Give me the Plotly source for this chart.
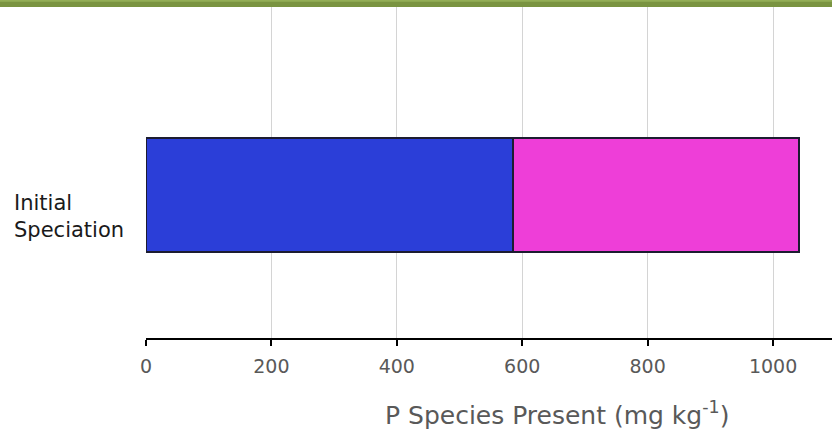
import plotly.graph_objects as go

categories = ["Initial Speciation"]
series_names = ["Species A", "Species B"]
series_values = [[585], [456]]
series_colors = ["#2B3ED8", "#EE3ED8"]
x_ticks = [0, 200, 400, 600, 800, 1000]

W, H = 832, 432
L, R, T, B = 146, 0, 7, 94
pw, ph = W - L - R, H - T - B

fig = go.Figure()
for name, vals, col in zip(series_names, series_values, series_colors):
    fig.add_trace(go.Bar(
        y=[0], x=vals, name=name, orientation="h", width=1,
        marker=dict(color=col, line=dict(color="#1c1c30", width=1.5)),
        showlegend=False,
    ))

fig.update_layout(
    barmode="stack",
    width=W, height=H,
    margin=dict(l=L, r=R, t=T, b=B, pad=0),
    paper_bgcolor="white", plot_bgcolor="white",
    font=dict(family="DejaVu Sans, sans-serif"),
    xaxis=dict(
        range=[0, 1094], tickvals=x_ticks, ticktext=[str(v) for v in x_ticks],
        showgrid=True, gridcolor="#d4d4d4", gridwidth=1.2,
        showline=True, linecolor="black", linewidth=2,
        ticks="outside", ticklen=6, tickwidth=2, tickcolor="black",
        tickfont=dict(size=19, color="#595959", family="DejaVu Sans, sans-serif"),
        ticklabelstandoff=4,
        zeroline=False,
    ),
    yaxis=dict(
        range=[-1.254, 1.65], showticklabels=False, showgrid=False,
        zeroline=False, showline=False, ticks="",
    ),
    shapes=[
        dict(type="rect", xref="paper", yref="paper",
             x0=-L / pw, x1=1, y0=1, y1=1 + 7 / ph,
             fillcolor="#7A9441", line=dict(width=0), layer="above"),
        dict(type="rect", xref="paper", yref="paper",
             x0=-L / pw, x1=1, y0=1 + 5.2 / ph, y1=1 + 7 / ph,
             fillcolor="#93AE56", line=dict(width=0), layer="above"),
    ],
    annotations=[
        dict(text="Initial<br>Speciation", xref="paper", yref="paper",
             x=-(L - 12) / pw, y=(H - B - 216) / ph, xanchor="left", yanchor="middle",
             align="left", showarrow=False,
             font=dict(size=21, color="#1a1a1a", family="DejaVu Sans, sans-serif")),
        dict(text="P Species Present (mg kg<sup>-1</sup>)", xref="paper", yref="paper",
             x=(557 - L) / pw, y=-(413 - (H - B)) / ph, xanchor="center", yanchor="middle",
             showarrow=False,
             font=dict(size=25, color="#595959", family="DejaVu Sans, sans-serif")),
    ],
)

fig.write_html("out.html", config={"displayModeBar": False},
               post_script="document.body.style.margin='0';document.body.style.overflow='hidden';")
